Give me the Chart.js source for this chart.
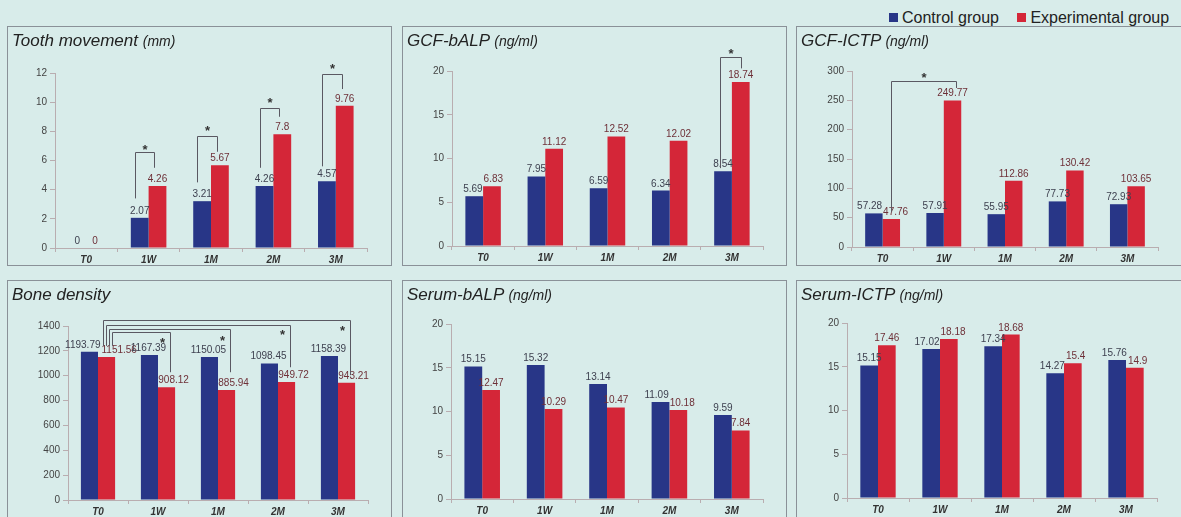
<!DOCTYPE html>
<html>
<head>
<meta charset="utf-8">
<script src="https://cdn.jsdelivr.net/npm/chart.js@4.4.1/dist/chart.umd.min.js"></script>
<style>
  html, body { margin: 0; padding: 0; }
  body {
    width: 1181px; height: 517px; overflow: hidden; position: relative;
    background: #d8ecea; font-family: "Liberation Sans", Arial, sans-serif;
  }
  .box {
    position: absolute; box-sizing: border-box;
    border: 1px solid #8a9198;
  }
  .wrap { position: absolute; left: 0; top: 0; }
  .title {
    position: absolute; left: 4px; top: 4px; font-style: italic;
    font-size: 17px; line-height: 20px; color: #222; white-space: nowrap;
    pointer-events: none;
  }
  .title small { font-size: 14px; }
  .legend { position: absolute; top: 9px; left: 889px; font-size: 16px; color: #222; white-space: nowrap; }
  .legend span.sw { display: inline-block; width: 9px; height: 9px; margin-right: 4px; vertical-align: 1px; }
</style>
</head>
<body>
<div class="legend">
  <span class="sw" style="background:#283687"></span>Control group
  <span class="sw" style="background:#d42638; margin-left: 14px"></span>Experimental group
</div>

<script>
// time points
const timePoints = ['T0', '1W', '1M', '2M', '3M'];

// Tooth movement (mm)
const toothControl = [0, 2.07, 3.21, 4.26, 4.57];
const toothExp = [0, 4.26, 5.67, 7.8, 9.76];
// GCF-bALP (ng/ml)
const gcfBalpControl = [5.69, 7.95, 6.59, 6.34, 8.54];
const gcfBalpExp = [6.83, 11.12, 12.52, 12.02, 18.74];
// GCF-ICTP (ng/ml)
const gcfIctpControl = [57.28, 57.91, 55.95, 77.73, 72.93];
const gcfIctpExp = [47.76, 249.77, 112.86, 130.42, 103.65];
// Bone density
const boneControl = [1193.79, 1167.39, 1150.05, 1098.45, 1158.39];
const boneExp = [1151.56, 908.12, 885.94, 949.72, 943.21];
// Serum-bALP (ng/ml)
const serumBalpControl = [15.15, 15.32, 13.14, 11.09, 9.59];
const serumBalpExp = [12.47, 10.29, 10.47, 10.18, 7.84];
// Serum-ICTP (ng/ml)
const serumIctpControl = [15.15, 17.02, 17.34, 14.27, 15.76];
const serumIctpExp = [17.46, 18.18, 18.68, 15.4, 14.9];

// significance brackets: [dataset, category] ends, values of line ends, top and star
const toothBrackets = [
  { from: [0, 1], to: [1, 1], y1: 3.4, y2: 5.5, top: 6.56, star: 6.95 },
  { from: [0, 2], to: [1, 2], y1: 4.5, y2: 6.6, top: 7.7, star: 8.2 },
  { from: [0, 3], to: [1, 3], y1: 5.5, y2: 9.0, top: 9.6, star: 10.15 },
  { from: [0, 4], to: [1, 4], y1: 5.6, y2: 10.9, top: 11.93, star: 12.48 },
];
const gcfBalpBrackets = [
  { from: [0, 4], to: [1, 4], y1: 8.9, y2: 20.3, top: 21.6, star: 22.3 },
];
const gcfIctpBrackets = [
  { from: [1, 0], to: [1, 1], y1: 60, y2: 271, top: 283, star: 293 },
];
const boneBrackets = [
  { from: [1, 0], to: [1, 1], y1: 1240, y2: 1028, top: 1349, star: 1291 },
  { from: [1, 0], to: [1, 2], y1: 1240, y2: 1028, top: 1373, star: 1304 },
  { from: [1, 0], to: [1, 3], y1: 1240, y2: 1068, top: 1406, star: 1352 },
  { from: [1, 0], to: [1, 4], y1: 1240, y2: 1004, top: 1446, star: 1387 },
];

const BLUE = '#283687';
const RED = '#d42638';
const AXIS = '#b9adb0';
const FONT = "'Liberation Sans', Arial, sans-serif";

// value above each bar; pairs that would collide get pushed apart
const valueLabels = {
  id: 'valueLabels',
  afterDatasetsDraw(chart, args, opts) {
    const ctx = chart.ctx;
    ctx.save();
    ctx.font = '10px ' + FONT;
    ctx.textAlign = 'center';
    ctx.textBaseline = 'alphabetic';
    const shift = opts.shift || [0, 0];
    const d0 = chart.data.datasets[0].data, d1 = chart.data.datasets[1].data;
    const m0 = chart.getDatasetMeta(0).data, m1 = chart.getDatasetMeta(1).data;
    m0.forEach((b0, j) => {
      const b1 = m1[j];
      const t0 = String(d0[j]), t1 = String(d1[j]);
      let x0 = b0.x + shift[0], x1 = b1.x + shift[1];
      const w0 = ctx.measureText(t0).width, w1 = ctx.measureText(t1).width;
      const overlap = (x0 + w0 / 2 + 1) - (x1 - w1 / 2);
      if (overlap > 0 && Math.abs(b0.y - b1.y) < 11) {
        x0 -= overlap / 2;
        x1 += overlap / 2;
      }
      ctx.fillStyle = '#3e4150';
      ctx.fillText(t0, x0, b0.y - 4);
      ctx.fillStyle = '#6e3038';
      ctx.fillText(t1, x1, b1.y - 4);
    });
    ctx.restore();
  }
};

const brackets = {
  id: 'brackets',
  afterDatasetsDraw(chart, args, opts) {
    const items = opts.items || [];
    if (!items.length) return;
    const y = chart.scales.y;
    const ctx = chart.ctx;
    ctx.save();
    ctx.strokeStyle = '#5a5862';
    ctx.lineWidth = 1;
    ctx.fillStyle = '#333';
    ctx.font = 'bold 13px ' + FONT;
    ctx.textAlign = 'center';
    items.forEach((b, i) => {
      const a = chart.getDatasetMeta(b.from[0]).data[b.from[1]];
      const c = chart.getDatasetMeta(b.to[0]).data[b.to[1]];
      const x1 = Math.round(a.x + opts.leftDx - (opts.nestStep || 0) * i) + 0.5;
      const x2 = Math.round(c.x + opts.rightDx) + 0.5;
      const yt = Math.round(y.getPixelForValue(b.top)) + 0.5;
      ctx.beginPath();
      ctx.moveTo(x1, y.getPixelForValue(b.y1));
      ctx.lineTo(x1, yt);
      ctx.lineTo(x2, yt);
      ctx.lineTo(x2, y.getPixelForValue(b.y2));
      ctx.stroke();
      const sx = opts.starAtEnd ? c.x - 4 : (x1 + x2) / 2;
      ctx.fillText('*', sx, y.getPixelForValue(b.star) + 7);
    });
    ctx.restore();
  }
};

function makePanel(p) {
  const box = document.createElement('div');
  box.className = 'box';
  Object.assign(box.style, { left: p.box[0] + 'px', top: p.box[1] + 'px', width: p.box[2] + 'px', height: p.box[3] + 'px' });
  const iw = p.box[2] - 2, ih = p.box[3] - 2;
  const wrap = document.createElement('div');
  wrap.className = 'wrap';
  wrap.style.width = iw + 'px';
  wrap.style.height = ih + 'px';
  const canvas = document.createElement('canvas');
  wrap.appendChild(canvas);
  box.appendChild(wrap);
  const title = document.createElement('div');
  title.className = 'title';
  title.innerHTML = p.title;
  box.appendChild(title);
  document.body.appendChild(box);

  const ox = p.box[0] + 1, oy = p.box[1] + 1;
  const yw = p.plot[0] - ox;
  const padTop = p.plot[1] - oy;
  const padRight = ox + iw - p.plot[2];
  const xh = oy + ih - p.plot[3];

  new Chart(canvas, {
    type: 'bar',
    data: {
      labels: timePoints,
      datasets: [
        { label: 'Control group', data: p.control, backgroundColor: BLUE },
        { label: 'Experimental group', data: p.exp, backgroundColor: RED },
      ],
    },
    options: {
      responsive: true,
      maintainAspectRatio: false,
      animation: false,
      layout: { padding: { top: padTop, right: padRight, left: 0, bottom: 0 } },
      datasets: { bar: { categoryPercentage: 0.57, barPercentage: 1 } },
      plugins: {
        legend: { display: false },
        tooltip: { enabled: false },
        valueLabels: { shift: p.labelShift },
        brackets: Object.assign({ items: p.brackets || [] }, p.bracketStyle),
      },
      scales: {
        x: {
          grid: { drawOnChartArea: false, tickLength: 4, color: AXIS },
          border: { color: AXIS },
          ticks: { color: '#333', padding: 2, font: { family: FONT, size: 10, weight: 'bold', style: 'italic' } },
          afterFit(axis) { axis.height = xh; },
        },
        y: {
          min: 0, max: p.max,
          grid: { drawOnChartArea: false, tickLength: 5, color: AXIS },
          border: { color: AXIS },
          ticks: {
            stepSize: p.step, color: '#444', padding: 3, font: { family: FONT, size: 10 },
            callback: (v) => String(v),
          },
          afterFit(axis) { axis.width = yw; },
        },
      },
    },
    plugins: [valueLabels, brackets],
  });
}

makePanel({
  title: 'Tooth movement <small>(mm)</small>', box: [7, 26, 385, 240], plot: [55, 73, 367, 248],
  control: toothControl, exp: toothExp, max: 12, step: 2,
  brackets: toothBrackets, bracketStyle: { leftDx: -5, rightDx: -3 },
});
makePanel({
  title: 'GCF-bALP <small>(ng/ml)</small>', box: [402, 26, 385, 240], plot: [452, 71, 763, 246],
  control: gcfBalpControl, exp: gcfBalpExp, max: 20, step: 5,
  brackets: gcfBalpBrackets, bracketStyle: { leftDx: -3, rightDx: 0 },
});
makePanel({
  title: 'GCF-ICTP <small>(ng/ml)</small>', box: [796, 26, 386, 240], plot: [852, 71, 1158, 247],
  control: gcfIctpControl, exp: gcfIctpExp, max: 300, step: 50,
  brackets: gcfIctpBrackets, bracketStyle: { leftDx: 0, rightDx: 3 },
});
makePanel({
  title: 'Bone density', box: [7, 280, 385, 240], plot: [68, 326, 368, 500],
  control: boneControl, exp: boneExp, max: 1400, step: 200, labelShift: [-1, 7],
  brackets: boneBrackets, bracketStyle: { leftDx: 5.5, rightDx: 3, nestStep: 3, starAtEnd: true },
});
makePanel({
  title: 'Serum-bALP <small>(ng/ml)</small>', box: [402, 280, 385, 240], plot: [451, 324, 763, 499],
  control: serumBalpControl, exp: serumBalpExp, max: 20, step: 5,
});
makePanel({
  title: 'Serum-ICTP <small>(ng/ml)</small>', box: [796, 280, 386, 240], plot: [847, 323, 1157, 498],
  control: serumIctpControl, exp: serumIctpExp, max: 20, step: 5,
});
</script>
</body>
</html>
